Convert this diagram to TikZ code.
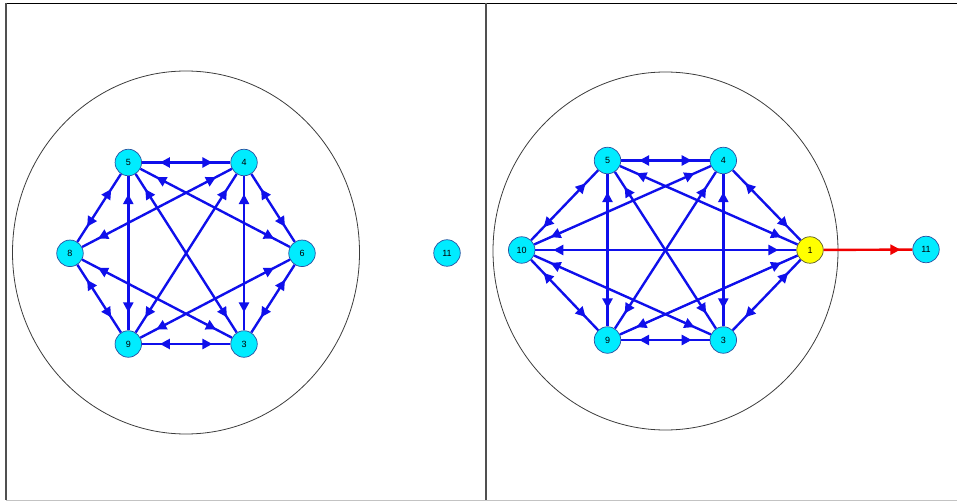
\documentclass[tikz,border=0pt]{standalone}
\usepackage{fontspec}
\setmainfont{Liberation Sans}
\usetikzlibrary{arrows.meta,decorations.markings}

\definecolor{nodefill}{RGB}{0,236,255}
\definecolor{nodeline}{RGB}{40,80,160}
\definecolor{hotfill}{RGB}{255,255,0}
\definecolor{hotline}{RGB}{90,90,40}
\definecolor{edgeblue}{RGB}{15,15,235}
\definecolor{edgered}{RGB}{240,0,0}
\definecolor{framegray}{RGB}{80,80,80}
\definecolor{lightrule}{RGB}{195,195,195}
\definecolor{ringgray}{RGB}{60,60,60}

\tikzset{
  vert/.style={circle, draw=nodeline, line width=0.7pt, fill=nodefill,
    minimum size=26.5pt, inner sep=0pt, font=\fontsize{9}{10}\selectfont},
  hot/.style={vert, fill=hotfill, draw=hotline},
  ring/.style={draw=ringgray, line width=0.8pt},
  biedge/.style={draw=edgeblue, line width=2.4pt, postaction={decorate},
    decoration={markings,
      mark=at position 18pt with {\arrowreversed[edgeblue]{Triangle[length=10pt,width=10pt]}},
      mark=at position -18pt with {\arrow[edgeblue]{Triangle[length=10pt,width=10pt]}}}},
  oneway/.style={draw=edgered, line width=2.4pt, postaction={decorate},
    decoration={markings,
      mark=at position -12pt with {\arrow[edgered]{Triangle[length=10pt,width=10pt]}}}},
}

\begin{document}
\begin{tikzpicture}[x=1pt, y=-1pt]
  \useasboundingbox (0,0) rectangle (957,502);

  % panel frame
  \draw[black, line width=1pt] (6,3.3) -- (957,3.3);
  \draw[framegray, line width=2pt] (6,3) -- (6,500);
  \draw[framegray, line width=2pt] (486,3) -- (486,500);
  \draw[lightrule, line width=1.5pt] (6,500.5) -- (957,500.5);

  % enclosing rings
  \draw[ring] (186,252.5) ellipse [x radius=173.5pt, y radius=181.5pt];
  \draw[ring] (665.5,251) ellipse [x radius=172.5pt, y radius=179pt];

  % left graph
  \node[vert] (L5) at (128.3,162.5) {5};
  \node[vert] (L4) at (244,162.5) {4};
  \node[vert] (L8) at (70,253.3) {8};
  \node[vert] (L6) at (302,253.3) {6};
  \node[vert] (L9) at (128.3,344) {9};
  \node[vert] (L3) at (244,344) {3};
  \node[vert] (L11) at (447,253) {11};

  \foreach \a/\b in {5/4, 5/8, 5/9, 5/6, 5/3, 4/6, 4/3, 4/8, 4/9, 8/9, 8/3, 6/3, 6/9, 9/3}
    \draw[biedge] (L\a) -- (L\b);

  % right graph
  \node[vert] (R5) at (607.5,160.5) {5};
  \node[vert] (R4) at (723.3,160.5) {4};
  \node[vert] (R10) at (521.7,250) {10};
  \node[hot] (R1) at (810,250) {1};
  \node[vert] (R9) at (607.5,340) {9};
  \node[vert] (R3) at (723.3,340) {3};
  \node[vert] (R11) at (926,249.5) {11};

  \foreach \a/\b in {5/4, 5/10, 5/1, 5/9, 5/3, 4/10, 4/1, 4/9, 4/3, 10/1, 10/9, 10/3, 1/9, 1/3, 9/3}
    \draw[biedge] (R\a) -- (R\b);

  \draw[oneway] (R1) -- (R11);
\end{tikzpicture}
\end{document}
